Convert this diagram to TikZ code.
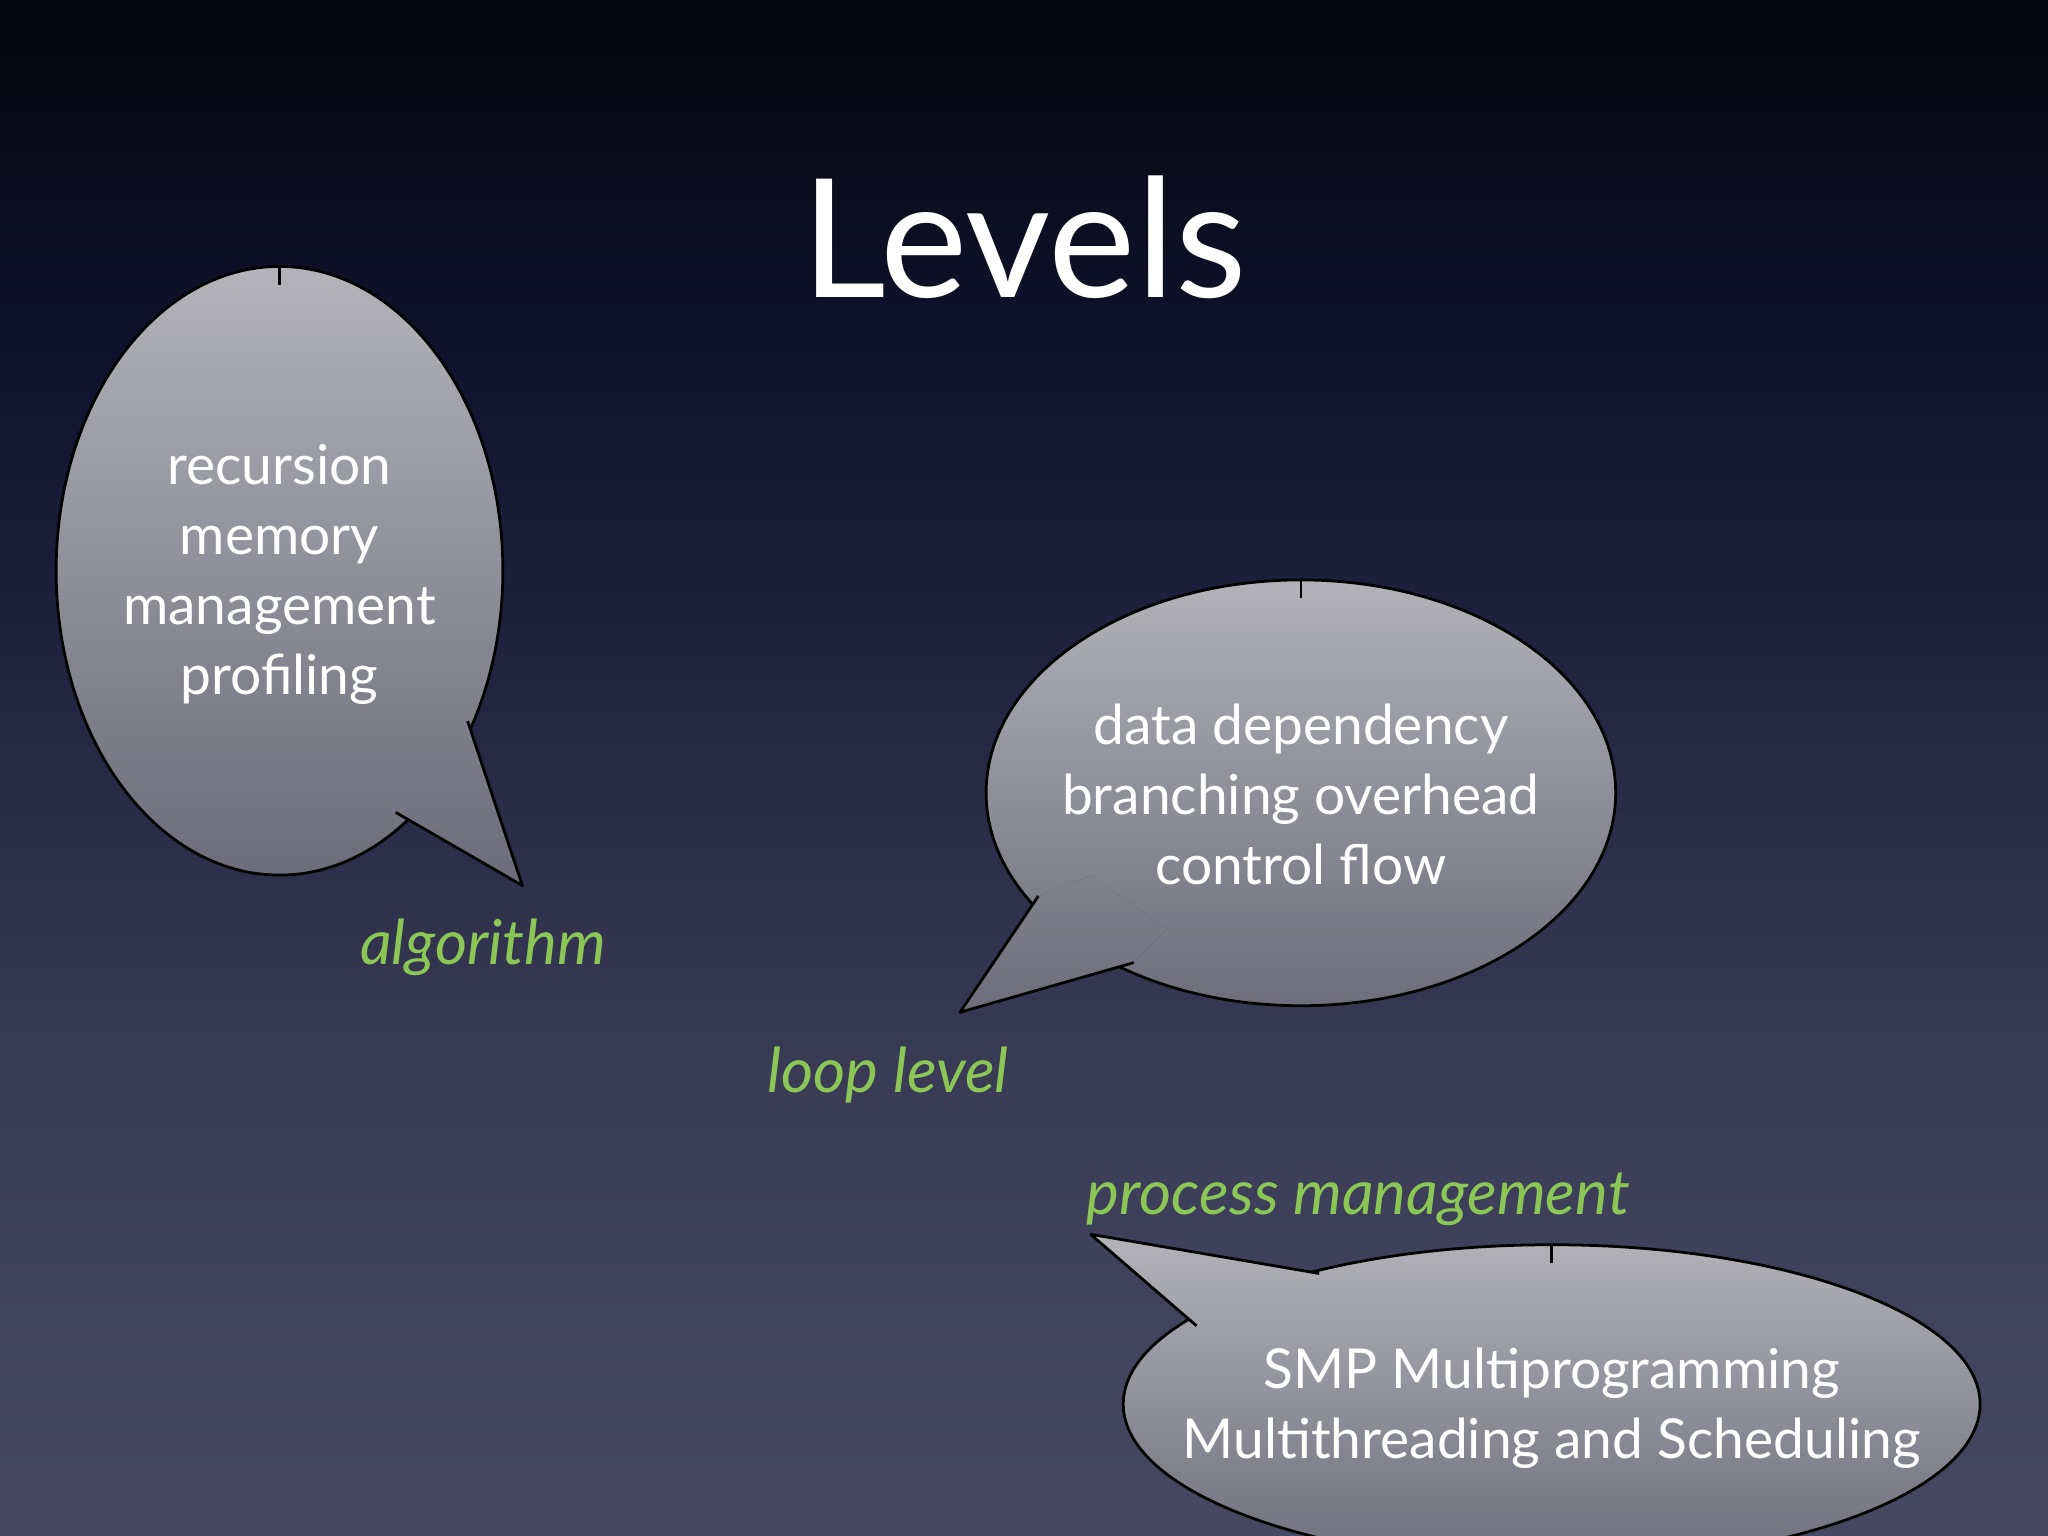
\documentclass[tikz,border=0pt]{standalone}
\usepackage{fontspec}
\setmainfont{Lato}
\usetikzlibrary{calc}
\definecolor{grn}{HTML}{8CC657}
\definecolor{bubtop}{HTML}{B6B6BB}
\definecolor{bubbot}{HTML}{696979}
\definecolor{bgA}{HTML}{5E5E74}
\definecolor{bgB}{HTML}{3A3B55}
\definecolor{bgC}{HTML}{121430}
\pgfdeclareverticalshading{bgshade}{100bp}{
  color(0bp)=(bgA);
  color(40bp)=(bgB);
  color(62bp)=(bgC);
  color(80bp)=(black);
  color(100bp)=(black)}
\tikzset{
  body/.style={text=white,font=\fontsize{24}{30.5}\selectfont,align=center},
  lab/.style={text=grn,font=\itshape\fontsize{27}{32}\selectfont},
  edge/.style={draw=black,line width=1.2pt,line join=round}
}
\newcommand{\bubble}[7]{%
  \begin{scope}
    \clip (#1,#2) ellipse [x radius=#3,y radius=#4] (#5)--(#6)--(#7)--($(#7)!0.2!(#1,#2)$)--($(#5)!0.2!(#1,#2)$)--cycle;
    \shade[top color=bubtop,bottom color=bubbot] (#1-#3-150,#2-#4-20) rectangle (#1+#3+150,#2+#4+20);
  \end{scope}
  \draw[edge] (#1,#2) ellipse [x radius=#3,y radius=#4];
  \begin{scope}
    \clip (#5)--(#6)--(#7)--($(#7)!0.2!(#1,#2)$)--($(#5)!0.2!(#1,#2)$)--cycle;
    \shade[top color=bubtop,bottom color=bubbot] (#1-#3-150,#2-#4-20) rectangle (#1+#3+150,#2+#4+20);
  \end{scope}
  \draw[edge] (#5)--(#6)--(#7);
  \draw[edge] (#1,#2-#4)--(#1,#2-#4+14);
}
\begin{document}
\begin{tikzpicture}[x=0.02cm,y=-0.02cm]
\useasboundingbox (0,0) rectangle (1568,1176);
\shade[shading=bgshade] (0,0) rectangle (1568,1176);
\begin{scope}
\clip (0,0) rectangle (1568,1176);
\bubble{214}{437}{171}{233}{358,552}{400,678}{303,622}
\bubble{996}{607}{241}{163}{795,686}{735,775}{868,737}
\bubble{1188}{1075}{328}{122}{916,1015}{835,945}{1010,975}
\end{scope}
\node[text=white,font=\fontsize{72}{80}\selectfont] (title) at (784,182) {Levels};
\node[body] (t1) at (214,440) {recursion\\memory\\management\\profiling};
\node[body] (t2) at (996,608) {data dependency\\branching overhead\\control flow};
\node[body] (t3) at (1188,1078) {SMP Multiprogramming\\Multithreading and Scheduling};
\node[lab] (l1) at (370,725) {algorithm};
\node[lab] (l2) at (680,823) {loop level};
\node[lab] (l3) at (1040,918) {process management};
\end{tikzpicture}
\end{document}
